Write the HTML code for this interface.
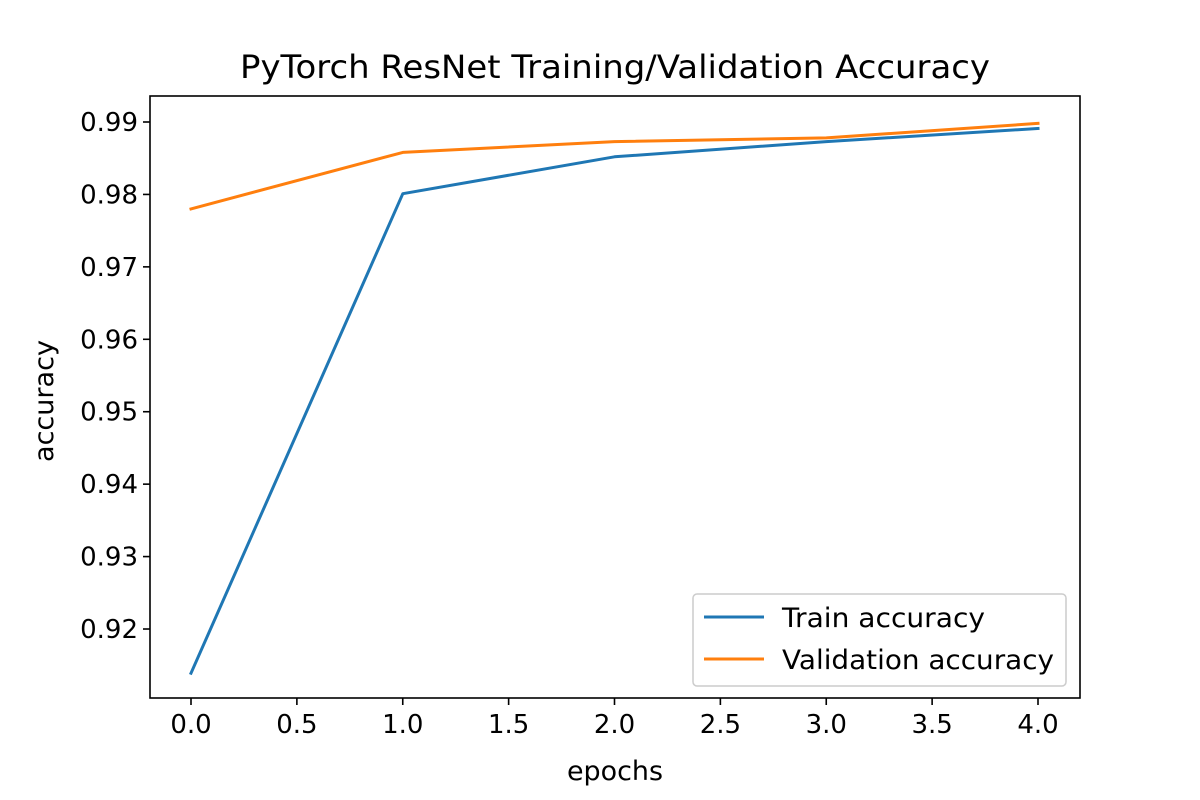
<!DOCTYPE html>
<html><head><meta charset="utf-8"><style>
html,body{margin:0;padding:0;background:#fff;}
svg{display:block;font-family:"DejaVu Sans","Liberation Sans",sans-serif;}
</style></head><body>
<svg id="chart" width="1200" height="800" xmlns="http://www.w3.org/2000/svg">
<rect width="1200" height="800" fill="#fff"/>
<text x="615" y="78" font-size="32" textLength="750" lengthAdjust="spacingAndGlyphs" text-anchor="middle">PyTorch ResNet Training/Validation Accuracy</text>
<g id="marks"></g>
<g id="axes"></g>
<text x="615" y="780" font-size="27" textLength="96" lengthAdjust="spacingAndGlyphs" text-anchor="middle">epochs</text>
<text x="53" y="401" font-size="27" textLength="122" lengthAdjust="spacingAndGlyphs" text-anchor="middle" transform="rotate(-90 53 401)">accuracy</text>
<g>
<rect x="693" y="594" width="373" height="92" rx="4" fill="#fff" fill-opacity="0.8" stroke="#ccc" stroke-width="1.5"/>
<line x1="704" y1="617" x2="764" y2="617" stroke="#1f77b4" stroke-width="3"/>
<text x="782" y="627" font-size="27" textLength="203" lengthAdjust="spacingAndGlyphs">Train accuracy</text>
<line x1="704" y1="659" x2="764" y2="659" stroke="#ff7f0e" stroke-width="3"/>
<text x="782" y="669" font-size="27" textLength="272" lengthAdjust="spacingAndGlyphs">Validation accuracy</text>
</g>
</svg>
<script>
const epochs = [0, 1, 2, 3, 4];
const trainAcc = [0.9139, 0.9801, 0.9852, 0.9873, 0.9891];
const valAcc = [0.9780, 0.9858, 0.9873, 0.9878, 0.9898];
const xTicks = [0, 0.5, 1, 1.5, 2, 2.5, 3, 3.5, 4];
const yTicks = [0.92, 0.93, 0.94, 0.95, 0.96, 0.97, 0.98, 0.99];

const L = 150, R = 1080, T = 96, B = 698;
const x0 = 191, xPer = 211.75;
const y0 = 122, yPer = 7243;
function sx(v){ return x0 + v * xPer; }
function sy(v){ return y0 - (v - 0.99) * yPer; }
const NS = "http://www.w3.org/2000/svg";
function mk(tag, attrs, parent){
  const e = document.createElementNS(NS, tag);
  for (const k in attrs) e.setAttribute(k, attrs[k]);
  parent.appendChild(e);
  return e;
}
const marks = document.getElementById('marks');
const axes = document.getElementById('axes');

function series(vals, color, name){
  const pts = epochs.map((e,i)=> sx(e).toFixed(1)+','+sy(vals[i]).toFixed(1)).join(' ');
  const p = mk('polyline', {points: pts, fill:'none', stroke: color, 'stroke-width': 3, 'stroke-linejoin':'round', 'stroke-linecap':'square'}, marks);
  
  
}
series(trainAcc, '#1f77b4', 'train-accuracy-line');
series(valAcc, '#ff7f0e', 'validation-accuracy-line');

const frame = mk('rect', {x:L, y:T, width:R-L, height:B-T, fill:'none', stroke:'#000', 'stroke-width':1.6}, axes);



xTicks.forEach(v=>{
  const x = sx(v);
  mk('line', {x1:x, y1:B, x2:x, y2:B+7, stroke:'#000', 'stroke-width':1.6}, axes);
  const t = mk('text', {x:x, y:B+35, 'font-size':26, 'text-anchor':'middle'}, axes);
  t.textContent = v.toFixed(1);
  
  
});
yTicks.forEach(v=>{
  const y = sy(v);
  mk('line', {x1:L-7, y1:y, x2:L, y2:y, stroke:'#000', 'stroke-width':1.6}, axes);
  const t = mk('text', {x:L-12, y:y+9, 'font-size':26, 'text-anchor':'end'}, axes);
  t.textContent = v.toFixed(2);
  
  
});
</script>
</body></html>
